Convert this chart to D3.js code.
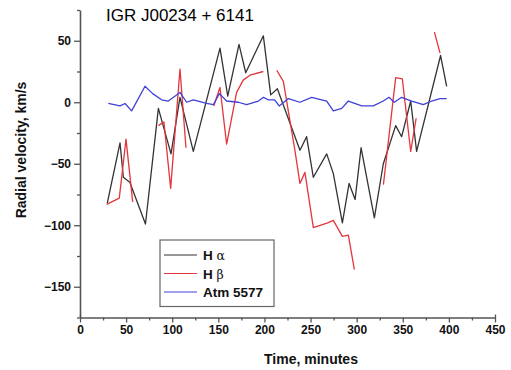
<!DOCTYPE html>
<html>
<head>
<meta charset="utf-8">
<script src="https://cdn.jsdelivr.net/npm/d3@7"></script>
<style>
  html, body { margin: 0; padding: 0; background: #fff; }
  svg { display: block; font-family: "Liberation Sans", Arial, sans-serif; }
</style>
</head>
<body>
<svg id="chart" width="511" height="370"></svg>
<script>
// ---- data ----
const title = "IGR J00234 + 6141";
const xTicks = [0, 50, 100, 150, 200, 250, 300, 350, 400, 450];
const yTicks = [-150, -100, -50, 0, 50];

const haTime = [29.6, 43.4, 47, 54, 71, 85, 98.7, 108.4, 122.9, 151.8, 160.2, 172.4, 179.7, 198.8, 206.8, 214, 238.5, 245.7, 253, 267.5, 274.7, 284.5, 291.8, 298.3, 304.8, 319.2, 328.9, 342.3, 348.8, 358.6, 365, 391, 397.6];
const haVel  = [-82, -33, -61, -65, -99, -5, -42, 4, -40, 44, 5, 47, 24, 54, 6, 11, -39, -28, -61, -42, -58, -98, -66, -79, -37, -94, -50, -19, -28, 1, -40, 38, 13];

// null marks a gap in the Hβ curve
const hbTime = [28.9, 42.6, 49.9, 57.1, null, 85, 91, 98.3, 108.4, 114.9, null, 145, 151.8, 159, 169.8, 177, 184.3, 198.8, null, 213.3, 220.5, 233, 238.5, 243.9, 253, 268.5, 274.7, 284.5, 291, 297.5, null, 329, 342.3, 349.5, 358.6, 364.5, null, 384.3, 390.4];
const hbVel  = [-83, -78, -30, -81, null, -19, -16, -70, 27, -37, null, -3, 12, -34, 8, 18, 22, 25, null, 26, 17, -39, -66, -57, -102, -98, -96, -109, -108, -136, null, -67, 20, 19, -40, -13, null, 57, 40];

const atmTime = [30.7, 43.4, 48.8, 56, 70.5, 78.8, 88.5, 95.8, 108.4, 115.6, 122.9, 137.3, 144.6, 151.1, 159, 171.7, 180.7, 193.4, 199, 204, 211, 216, 226, 238.5, 251.2, 267.5, 274.7, 283.8, 291, 305.5, 318, 328.9, 335, 340.8, 348.8, 359.6, 372.3, 381.3, 390.4, 397.6];
const atmVel  = [-1, -3, -1, -7, 13, 7, 2, 1, 8, 0, 2, -1, -2, 7, 1, 0, -2, 1, 4, 2, 2, -3, 3, 0, 4, 1, -7, -5, 1, -3, -3, 1, 4, 0, 4, 1, -2, 1, 3, 3];

const seriesNames = ["H α", "H β", "Atm 5577"];
const seriesColors = ["#333333", "#e3363c", "#4040d8"];

// ---- layout ----
const svg = d3.select("#chart");
const x = d3.scaleLinear().domain([0, 450]).range([80, 495]);
const y = d3.scaleLinear().domain([-175, 75]).range([317.5, 10]);

const axisColor = "#555";

// x axis
const gx = svg.append("g").attr("transform", `translate(0,${y(-175)})`);
gx.call(d3.axisBottom(x).tickValues(xTicks).tickSize(5).tickSizeOuter(0).tickPadding(3));
gx.selectAll(".tick").filter(d => d === 0 || d === 450).select("line").attr("y1", -3);
svg.append("g").attr("transform", `translate(0,${y(-175)})`)
  .call(d3.axisBottom(x).tickValues(d3.range(25, 450, 50)).tickSize(3).tickFormat("").tickSizeOuter(0))
  .select(".domain").remove();

// y axis
const gy = svg.append("g").attr("transform", `translate(${x(0)},0)`);
gy.call(d3.axisLeft(y).tickValues(yTicks).tickSize(6).tickSizeOuter(0).tickPadding(3));
svg.append("g").attr("transform", `translate(${x(0)},0)`)
  .call(d3.axisLeft(y).tickValues([-175, -125, -75, -25, 25, 75]).tickSize(3).tickFormat("").tickSizeOuter(0))
  .select(".domain").remove();

svg.selectAll(".domain").attr("stroke", axisColor).attr("stroke-width", 1.6);
svg.selectAll(".tick line").attr("stroke", axisColor).attr("stroke-width", 1.3);
svg.selectAll(".tick text")
  .attr("fill", "#111").style("font-size", "12px").style("font-weight", "bold")
  .style("font-family", "'Liberation Sans', Arial, sans-serif");

// axis titles
svg.append("text")
  .attr("x", 311).attr("y", 364)
  .attr("text-anchor", "middle")
  .style("font-size", "14px").style("font-weight", "bold").attr("fill", "#111")
  .text("Time, minutes");
svg.append("text")
  .attr("transform", "translate(25.5,150) rotate(-90)")
  .attr("text-anchor", "middle")
  .style("font-size", "14px").style("font-weight", "bold").attr("fill", "#111")
  .text("Radial velocity, km/s");

// title
svg.append("text")
  .attr("x", 106).attr("y", 21)
  .style("font-size", "17px").attr("fill", "#000")
  .text(title);

// ---- series ----
const line = d3.line()
  .defined(d => d[0] !== null && d[1] !== null)
  .x(d => x(d[0])).y(d => y(d[1]));

const series = [
  d3.zip(haTime, haVel),
  d3.zip(hbTime, hbVel),
  d3.zip(atmTime, atmVel)
];

series.forEach((data, i) => {
  svg.append("path")
    .datum(data)
    .attr("fill", "none")
    .attr("stroke", seriesColors[i])
    .attr("stroke-width", 1.3)
    .attr("stroke-linejoin", "round")
    .attr("d", line);
});

// ---- legend ----
const lg = svg.append("g");
lg.append("rect")
  .attr("x", 160).attr("y", 240).attr("width", 114).attr("height", 66.5)
  .attr("fill", "#fff").attr("stroke", "#666").attr("stroke-width", 1.2);
const legendY = [255, 273.5, 292];
seriesNames.forEach((name, i) => {
  lg.append("line")
    .attr("x1", 164).attr("x2", 197)
    .attr("y1", legendY[i]).attr("y2", legendY[i])
    .attr("stroke", seriesColors[i]).attr("stroke-width", 1.2);
  const t = lg.append("text")
    .attr("x", 203).attr("y", legendY[i] + 5)
    .style("font-size", "13.5px").style("font-weight", "bold").attr("fill", "#111");
  if (i < 2) {
    const parts = name.split(" ");
    t.append("tspan").text(parts[0] + " ");
    t.append("tspan").style("font-weight", "normal").style("font-family", "'DejaVu Serif', serif").style("font-size", "12.5px").text(parts[1]);
  } else {
    t.text(name);
  }
});
</script>
</body>
</html>
